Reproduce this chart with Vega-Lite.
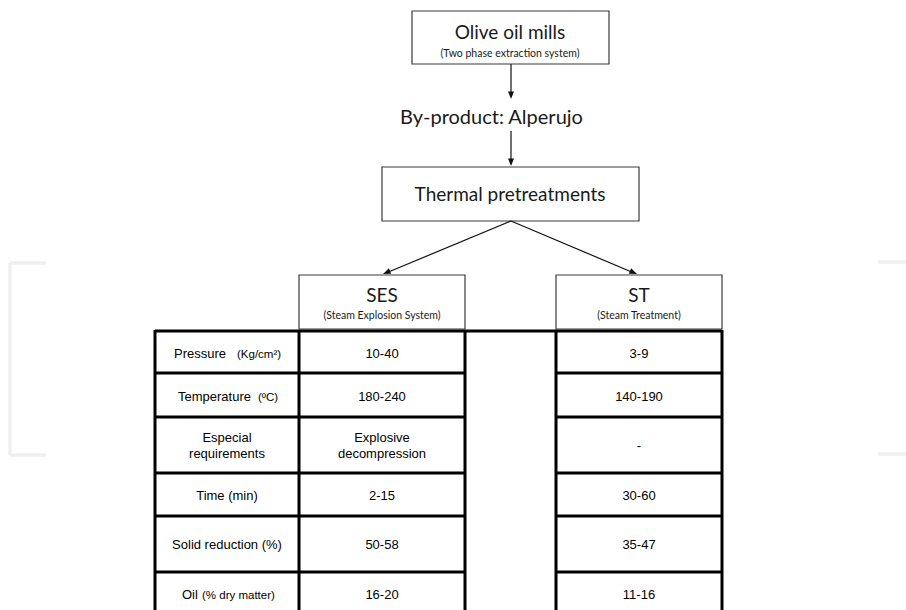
{
  "$schema": "https://vega.github.io/schema/vega-lite/v6.json",
  "width": 906,
  "height": 610,
  "padding": 0,
  "autosize": {"type": "none"},
  "background": "white",
  "config": {"view": {"stroke": null}},
  "datasets": {
    "boxes": [
      {"name": "Olive oil mills", "x": 412, "x2": 609, "y": 11, "y2": 64},
      {"name": "Thermal pretreatments", "x": 382, "x2": 639, "y": 167, "y2": 221},
      {"name": "SES", "x": 299, "x2": 465, "y": 275, "y2": 329},
      {"name": "ST", "x": 556, "x2": 722, "y": 275, "y2": 329}
    ],
    "lines": [
      {"role": "connector", "x": 511, "y": 64, "x2": 511, "y2": 95},
      {"role": "connector", "x": 511, "y": 131, "x2": 511, "y2": 162},
      {"role": "connector", "x": 511, "y": 221, "x2": 386, "y2": 273},
      {"role": "connector", "x": 511, "y": 221, "x2": 634, "y2": 273},
      {"role": "table", "x": 155, "y": 331, "x2": 722, "y2": 331},
      {"role": "table", "x": 155, "y": 373, "x2": 465, "y2": 373},
      {"role": "table", "x": 556, "y": 373, "x2": 722, "y2": 373},
      {"role": "table", "x": 155, "y": 417, "x2": 465, "y2": 417},
      {"role": "table", "x": 556, "y": 417, "x2": 722, "y2": 417},
      {"role": "table", "x": 155, "y": 473, "x2": 465, "y2": 473},
      {"role": "table", "x": 556, "y": 473, "x2": 722, "y2": 473},
      {"role": "table", "x": 155, "y": 516, "x2": 465, "y2": 516},
      {"role": "table", "x": 556, "y": 516, "x2": 722, "y2": 516},
      {"role": "table", "x": 155, "y": 572, "x2": 465, "y2": 572},
      {"role": "table", "x": 556, "y": 572, "x2": 722, "y2": 572},
      {"role": "table", "x": 155, "y": 330, "x2": 155, "y2": 612},
      {"role": "table", "x": 299, "y": 330, "x2": 299, "y2": 612},
      {"role": "table", "x": 465, "y": 330, "x2": 465, "y2": 612},
      {"role": "table", "x": 556, "y": 330, "x2": 556, "y2": 612},
      {"role": "table", "x": 722, "y": 330, "x2": 722, "y2": 612},
      {"role": "mark", "x": 10, "y": 263, "x2": 10, "y2": 455},
      {"role": "mark", "x": 10, "y": 263, "x2": 46, "y2": 263},
      {"role": "mark", "x": 10, "y": 455, "x2": 46, "y2": 455},
      {"role": "mark", "x": 878, "y": 262, "x2": 906, "y2": 262},
      {"role": "mark", "x": 878, "y": 454, "x2": 906, "y2": 454}
    ],
    "arrows": [
      {"dir": "down", "x": 511, "y": 99},
      {"dir": "down", "x": 511, "y": 166},
      {"dir": "left", "x": 383, "y": 274},
      {"dir": "right", "x": 637, "y": 274}
    ],
    "texts": [
      {"role": "title", "label": "Olive oil mills", "x": 510, "y": 39},
      {"role": "subtitle", "label": "(Two phase extraction system)", "x": 510, "y": 57},
      {"role": "lead", "label": "By-product: Alperujo", "x": 400, "y": 124},
      {"role": "title", "label": "Thermal pretreatments", "x": 510, "y": 201},
      {"role": "title", "label": "SES", "x": 382, "y": 302},
      {"role": "subtitle", "label": "(Steam Explosion System)", "x": 382, "y": 319},
      {"role": "title", "label": "ST", "x": 639, "y": 302},
      {"role": "subtitle", "label": "(Steam Treatment)", "x": 639, "y": 319},
      {"role": "cellL", "label": "Pressure", "x": 174, "y": 358},
      {"role": "unitL", "label": "(Kg/cm²)", "x": 237, "y": 358},
      {"role": "cell", "label": "10-40", "x": 382, "y": 358},
      {"role": "cell", "label": "3-9", "x": 639, "y": 358},
      {"role": "cellL", "label": "Temperature", "x": 178, "y": 401},
      {"role": "unitL", "label": "(ºC)", "x": 258, "y": 401},
      {"role": "cell", "label": "180-240", "x": 382, "y": 401},
      {"role": "cell", "label": "140-190", "x": 639, "y": 401},
      {"role": "cell", "label": "Especial", "x": 227, "y": 442},
      {"role": "cell", "label": "requirements", "x": 227, "y": 458},
      {"role": "cell", "label": "Explosive", "x": 382, "y": 442},
      {"role": "cell", "label": "decompression", "x": 382, "y": 458},
      {"role": "cell", "label": "-", "x": 639, "y": 450},
      {"role": "cell", "label": "Time (min)", "x": 227, "y": 500},
      {"role": "cell", "label": "2-15", "x": 382, "y": 500},
      {"role": "cell", "label": "30-60", "x": 639, "y": 500},
      {"role": "cell", "label": "Solid reduction (%)", "x": 227, "y": 549},
      {"role": "cell", "label": "50-58", "x": 382, "y": 549},
      {"role": "cell", "label": "35-47", "x": 639, "y": 549},
      {"role": "cellL", "label": "Oil", "x": 182, "y": 599},
      {"role": "unitL", "label": "(% dry matter)", "x": 202, "y": 599},
      {"role": "cell", "label": "16-20", "x": 382, "y": 599},
      {"role": "cell", "label": "11-16", "x": 639, "y": 599}
    ]
  },
  "encoding": {
    "x": {"field": "x", "type": "quantitative", "scale": {"domain": [0, 906], "nice": false, "zero": false}, "axis": null},
    "y": {"field": "y", "type": "quantitative", "scale": {"domain": [0, 610], "nice": false, "zero": false, "reverse": true}, "axis": null}
  },
  "layer": [
    {
      "data": {"name": "lines"},
      "transform": [{"filter": "datum.role === 'mark'"}],
      "mark": {"type": "rule", "stroke": "#efefef", "strokeWidth": 3.5},
      "encoding": {"x2": {"field": "x2"}, "y2": {"field": "y2"}}
    },
    {
      "data": {"name": "boxes"},
      "mark": {"type": "rect", "fill": "white", "stroke": "#3a3a3a", "strokeWidth": 1.2},
      "encoding": {"x2": {"field": "x2"}, "y2": {"field": "y2"}}
    },
    {
      "data": {"name": "lines"},
      "transform": [{"filter": "datum.role === 'connector'"}],
      "mark": {"type": "rule", "stroke": "#111111", "strokeWidth": 1.2},
      "encoding": {"x2": {"field": "x2"}, "y2": {"field": "y2"}}
    },
    {
      "data": {"name": "lines"},
      "transform": [{"filter": "datum.role === 'table'"}],
      "mark": {"type": "rule", "stroke": "#000000", "strokeWidth": 3},
      "encoding": {"x2": {"field": "x2"}, "y2": {"field": "y2"}}
    },
    {
      "data": {"name": "arrows"},
      "transform": [{"filter": "datum.dir === 'down'"}],
      "mark": {"type": "point", "shape": "M0,0 L-0.75,-1.9 L0.75,-1.9 Z", "size": 64, "filled": true, "fill": "#111111", "strokeWidth": 0, "opacity": 1}
    },
    {
      "data": {"name": "arrows"},
      "transform": [{"filter": "datum.dir === 'left'"}],
      "mark": {"type": "point", "shape": "M0,0 L-0.75,1.9 L0.75,1.9 Z", "angle": 247.5, "size": 64, "filled": true, "fill": "#111111", "strokeWidth": 0, "opacity": 1}
    },
    {
      "data": {"name": "arrows"},
      "transform": [{"filter": "datum.dir === 'right'"}],
      "mark": {"type": "point", "shape": "M0,0 L-0.75,1.9 L0.75,1.9 Z", "angle": 112.8, "size": 64, "filled": true, "fill": "#111111", "strokeWidth": 0, "opacity": 1}
    },
    {
      "data": {"name": "texts"},
      "transform": [{"filter": "datum.role === 'title'"}],
      "mark": {"type": "text", "font": "Lato", "fontSize": 19, "align": "center", "baseline": "alphabetic", "fill": "#1a1a1a"},
      "encoding": {"text": {"field": "label"}}
    },
    {
      "data": {"name": "texts"},
      "transform": [{"filter": "datum.role === 'subtitle'"}],
      "mark": {"type": "text", "font": "Lato", "fontSize": 10.5, "align": "center", "baseline": "alphabetic", "fill": "#1a1a1a"},
      "encoding": {"text": {"field": "label"}}
    },
    {
      "data": {"name": "texts"},
      "transform": [{"filter": "datum.role === 'lead'"}],
      "mark": {"type": "text", "font": "Lato", "fontSize": 20, "align": "left", "baseline": "alphabetic", "fill": "#1a1a1a"},
      "encoding": {"text": {"field": "label"}}
    },
    {
      "data": {"name": "texts"},
      "transform": [{"filter": "datum.role === 'cell'"}],
      "mark": {"type": "text", "font": "Liberation Sans", "fontSize": 13, "align": "center", "baseline": "alphabetic", "fill": "#000000"},
      "encoding": {"text": {"field": "label"}}
    },
    {
      "data": {"name": "texts"},
      "transform": [{"filter": "datum.role === 'cellL'"}],
      "mark": {"type": "text", "font": "Liberation Sans", "fontSize": 13, "align": "left", "baseline": "alphabetic", "fill": "#000000"},
      "encoding": {"text": {"field": "label"}}
    },
    {
      "data": {"name": "texts"},
      "transform": [{"filter": "datum.role === 'unitL'"}],
      "mark": {"type": "text", "font": "Liberation Sans", "fontSize": 11.5, "align": "left", "baseline": "alphabetic", "fill": "#000000"},
      "encoding": {"text": {"field": "label"}}
    }
  ]
}
